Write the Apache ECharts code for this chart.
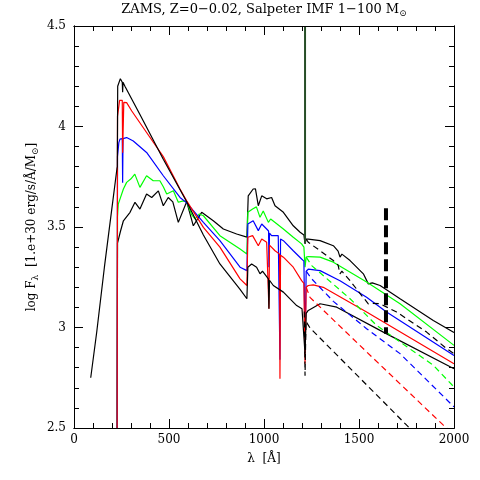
<!DOCTYPE html>
<html>
<head>
<meta charset="utf-8">
<script src="https://cdn.jsdelivr.net/npm/echarts@6/dist/echarts.min.js"></script>
<style>
html, body { margin: 0; padding: 0; background: #fff; }
#wrap { position: relative; width: 480px; height: 480px; }
#myChart, #axisChart { position: absolute; left: 0; top: 0; width: 480px; height: 480px; }
</style>
</head>
<body>
<div id="wrap">
<div id="myChart"></div>
<div id="axisChart"></div>
</div>
<script>
// 数据: [波长 Å, log F]
var blackA = [[88,2.75],[120,2.98],[160,3.30],[195,3.56],[226,3.79],[228,3.80],[230,4.20],[244,4.238],[254,4.22],[256,4.17],[258,4.22],[268,4.20],[347,4.06],[470,3.837],[593,3.626],[681,3.46],[768,3.316],[874,3.19],[910,3.143],[912,3.143],[915,3.30],[935,3.316],[961,3.30],[979,3.267],[992,3.28],[1023,3.242],[1026,3.093],[1029,3.235],[1049,3.209],[1102,3.176],[1172,3.109],[1200,3.093],[1210,3.085],[1216,2.87],[1222,3.07],[1233,3.085],[1295,3.118],[1383,3.101],[1628,2.977],[2000,2.795]];
var blackADash = [[1212,3.08],[1216,2.76],[1221,3.03],[1242,2.998],[1751,2.514],[2000,2.28]];

var red = [[227,2.5],[229,4.05],[240,4.13],[246,4.136],[254,4.13],[256,3.87],[260,3.87],[262,4.12],[277,4.119],[304,4.077],[382,3.97],[470,3.85],[558,3.689],[593,3.63],[681,3.498],[768,3.40],[874,3.242],[910,3.209],[912,3.209],[915,3.449],[940,3.457],[970,3.407],[988,3.44],[1014,3.424],[1024,3.42],[1026,3.093],[1029,3.41],[1058,3.382],[1082,3.365],[1084,2.745],[1087,3.36],[1102,3.35],[1154,3.30],[1198,3.233],[1210,3.22],[1216,2.82],[1222,3.20],[1233,3.209],[1259,3.212],[1312,3.20],[1540,3.077],[2000,2.82]];
var redDash = [[1222,3.20],[1242,3.15],[1500,2.915],[1944,2.514],[2000,2.465]];

var blue = [[227,2.5],[229,3.85],[236,3.92],[242,3.937],[254,3.94],[256,3.72],[258,3.94],[277,3.945],[312,3.928],[382,3.871],[470,3.755],[558,3.647],[593,3.62],[681,3.523],[768,3.432],[874,3.30],[910,3.283],[912,3.283],[915,3.515],[943,3.531],[970,3.482],[988,3.515],[1014,3.49],[1024,3.48],[1026,3.30],[1029,3.47],[1040,3.457],[1075,3.457],[1082,3.45],[1084,2.84],[1087,3.44],[1102,3.432],[1154,3.382],[1198,3.341],[1210,3.33],[1216,2.91],[1222,3.28],[1233,3.29],[1295,3.283],[1400,3.233],[1540,3.151],[1645,3.077],[2000,2.861]];
var blueDash = [[1222,3.28],[1251,3.242],[1365,3.13],[1540,2.994],[1716,2.87],[2000,2.605]];

var green = [[227,2.5],[229,3.55],[233,3.614],[260,3.689],[277,3.722],[300,3.74],[320,3.763],[347,3.697],[382,3.755],[417,3.73],[452,3.73],[470,3.70],[488,3.664],[523,3.68],[549,3.623],[575,3.63],[593,3.626],[620,3.56],[637,3.54],[660,3.565],[681,3.556],[768,3.457],[874,3.39],[910,3.366],[912,3.366],[915,3.573],[940,3.59],[960,3.60],[979,3.548],[996,3.58],[1023,3.523],[1035,3.54],[1102,3.49],[1154,3.449],[1198,3.416],[1210,3.40],[1216,3.30],[1222,3.35],[1233,3.353],[1295,3.35],[1365,3.325],[1540,3.226],[1716,3.118],[2000,2.911]];
var greenDash = [[1222,3.35],[1251,3.308],[1453,3.143],[1593,3.01],[1716,2.928],[1891,2.812],[2000,2.704]];

var blackE = [[227,2.5],[229,3.42],[245,3.48],[260,3.531],[295,3.573],[321,3.623],[347,3.589],[382,3.664],[409,3.647],[444,3.68],[470,3.606],[496,3.647],[520,3.625],[549,3.523],[593,3.626],[628,3.506],[672,3.573],[733,3.531],[786,3.49],[856,3.465],[910,3.45],[912,3.45],[917,3.655],[943,3.689],[955,3.69],[970,3.606],[988,3.655],[1014,3.64],[1040,3.647],[1058,3.606],[1102,3.573],[1154,3.506],[1190,3.474],[1210,3.46],[1216,3.416],[1222,3.44],[1233,3.44],[1295,3.432],[1365,3.407],[1390,3.38],[1400,3.35],[1410,3.365],[1453,3.333],[1523,3.267],[1549,3.217],[1570,3.222],[1611,3.209],[1716,3.143],[1891,3.035],[2000,2.975]];
var blackEDash = [[1222,3.44],[1233,3.424],[1295,3.382],[1365,3.333],[1390,3.31],[1400,3.267],[1410,3.28],[1453,3.233],[1514,3.159],[1549,3.118],[1570,3.12],[1611,3.118],[1698,3.077],[1856,2.977],[1961,2.895],[2000,2.87]];

var lyaLine = [[1216,4.5],[1216,3.42]];
var markBar = [[1642,3.593],[1642,2.969]];

var font = 'DejaVu Serif';
var gridBox = { left: 74, right: 26, top: 26, bottom: 52 };

function makeAxis(pos, showLabel) {
    var isX = (pos === 'bottom' || pos === 'top');
    return {
        type: 'value',
        position: pos,
        min: isX ? 0 : 2.5,
        max: isX ? 2000 : 4.5,
        interval: isX ? 500 : 0.5,
        axisLine: { show: true, onZero: false, lineStyle: { color: '#000', width: 1 } },
        axisTick: { show: true, inside: true, length: 9, lineStyle: { color: '#000', width: 1 } },
        minorTick: { show: true, splitNumber: 5, length: 5, lineStyle: { color: '#000', width: 1 } },
        splitLine: { show: false },
        axisLabel: {
            show: showLabel,
            color: '#000',
            fontFamily: font,
            fontSize: 12,
            margin: isX ? 6 : 8,
            formatter: function (v) { return String(v); }
        }
    };
}

var subStyle = { fontSize: 9, fontFamily: font, lineHeight: 8, verticalAlign: 'bottom', color: '#000' };

function line(data, color, dashed, width) {
    return {
        type: 'line',
        data: data,
        showSymbol: false,
        symbol: 'none',
        lineStyle: { color: color, width: width || 1.2, type: dashed || 'solid' }
    };
}

// 曲线图层
var myChart = echarts.init(document.getElementById('myChart'));
myChart.setOption({
    animation: false,
    backgroundColor: '#fff',
    grid: gridBox,
    xAxis: [makeAxis('bottom', false), makeAxis('top', false)],
    yAxis: [makeAxis('left', false), makeAxis('right', false)],
    series: [
        line(blackE, '#000'),
        line(green, '#00ff00'),
        line(blue, '#0000ff'),
        line(red, '#ff0000'),
        line(blackA, '#000'),
        line(blackEDash, '#000', [6, 4]),
        line(greenDash, '#00ff00', [6, 4]),
        line(blueDash, '#0000ff', [6, 4]),
        line(redDash, '#ff0000', [6, 4]),
        line(blackADash, '#000', [6, 4]),
        line(lyaLine, '#264d26', 'solid', 2),
        line(markBar, '#000', [12, 5], 4)
    ]
});

// 坐标轴图层 (刻度、标签、标题)
var xBottom = makeAxis('bottom', true);
xBottom.name = 'λ  [Å]';
xBottom.nameLocation = 'middle';
xBottom.nameGap = 25;
xBottom.nameMoveOverlap = false;
xBottom.nameTextStyle = { color: '#000', fontFamily: font, fontSize: 12 };

var yLeft = makeAxis('left', true);
yLeft.name = 'log F{s|λ}  [1.e+30 erg/s/Å/M{s|⊙}]';
yLeft.nameLocation = 'middle';
yLeft.nameGap = 34;
yLeft.nameMoveOverlap = false;
yLeft.nameTextStyle = { color: '#000', fontFamily: font, fontSize: 12, lineHeight: 16, rich: { s: subStyle } };

var axisChart = echarts.init(document.getElementById('axisChart'));
axisChart.setOption({
    animation: false,
    backgroundColor: 'transparent',
    grid: gridBox,
    xAxis: [xBottom, makeAxis('top', false)],
    yAxis: [yLeft, makeAxis('right', false)],
    graphic: [{
        type: 'text',
        x: 264,
        y: 10,
        style: {
            text: 'ZAMS, Z=0−0.02, Salpeter IMF 1−100 M{s|⊙}',
            font: '13px ' + font,
            fill: '#000',
            align: 'center',
            verticalAlign: 'middle',
            lineHeight: 16,
            rich: { s: subStyle }
        }
    }]
});

window.onresize = function () {
    myChart.resize();
    axisChart.resize();
};
</script>
</body>
</html>
